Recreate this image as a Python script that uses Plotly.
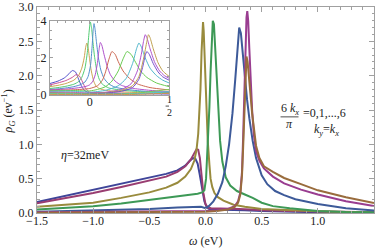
import plotly.graph_objects as go

# ---------------- main chart data (omega in eV, rho in 1/eV) ----------------
w_k0 = [-1.5, -1.25, -1.0, -0.75, -0.5, -0.35, -0.25, -0.18, -0.14, -0.11, -0.09, -0.07, -0.05, -0.03, -0.01, 0.01, 0.03, 0.06, 0.1, 0.2, 0.35, 0.5, 0.75, 1.0, 1.5]
r_k0 = [0.16, 0.25, 0.33, 0.43, 0.52, 0.57, 0.62, 0.69, 0.76, 0.80, 0.79, 0.72, 0.55, 0.33, 0.17, 0.09, 0.06, 0.05, 0.05, 0.05, 0.04, 0.03, 0.02, 0.01, 0.005]

w_k1 = [-1.5, -1.25, -1.0, -0.75, -0.5, -0.35, -0.25, -0.18, -0.13, -0.10, -0.08, -0.065, -0.05, -0.035, -0.02, 0.0, 0.02, 0.05, 0.1, 0.2, 0.3, 0.4, 0.5, 0.75, 1.0, 1.5]
r_k1 = [0.14, 0.21, 0.29, 0.38, 0.47, 0.53, 0.60, 0.68, 0.78, 0.87, 0.93, 0.92, 0.80, 0.55, 0.30, 0.13, 0.08, 0.07, 0.07, 0.07, 0.06, 0.05, 0.04, 0.03, 0.02, 0.01]

w_k2 = [-1.5, -1.25, -1.0, -0.75, -0.5, -0.35, -0.25, -0.18, -0.13, -0.10, -0.08, -0.065, -0.055, -0.045, -0.035, -0.028, -0.022, -0.016, -0.008, 0.0, 0.01, 0.02, 0.035, 0.045, 0.06, 0.08, 0.11, 0.16, 0.25, 0.35, 0.5, 0.75, 1.0, 1.25, 1.5]
r_k2 = [0.09, 0.12, 0.15, 0.22, 0.30, 0.37, 0.44, 0.53, 0.64, 0.76, 0.92, 1.15, 1.40, 1.80, 2.35, 2.70, 2.78, 2.65, 2.25, 1.80, 1.40, 1.05, 0.70, 0.50, 0.38, 0.29, 0.23, 0.18, 0.12, 0.09, 0.06, 0.04, 0.025, 0.015, 0.01]

w_k3 = [-1.5, -1.25, -1.0, -0.75, -0.5, -0.3, -0.15, -0.07, -0.03, -0.01, 0.005, 0.015, 0.025, 0.035, 0.045, 0.055, 0.065, 0.075, 0.085, 0.10, 0.115, 0.13, 0.15, 0.18, 0.22, 0.28, 0.35, 0.42, 0.5, 0.6, 0.75, 1.0, 1.25, 1.5]
r_k3 = [0.05, 0.07, 0.10, 0.14, 0.19, 0.23, 0.26, 0.28, 0.30, 0.33, 0.50, 0.80, 1.15, 1.55, 2.05, 2.55, 2.80, 2.75, 2.45, 1.90, 1.45, 1.05, 0.75, 0.52, 0.40, 0.32, 0.27, 0.22, 0.15, 0.10, 0.07, 0.03, 0.015, 0.01]

w_k4 = [-1.5, -1.0, -0.5, -0.25, -0.1, -0.04, 0.0, 0.03, 0.07, 0.11, 0.15, 0.18, 0.21, 0.24, 0.265, 0.285, 0.30, 0.315, 0.33, 0.35, 0.37, 0.39, 0.42, 0.45, 0.5, 0.55, 0.62, 0.7, 0.8, 1.0, 1.25, 1.5]
r_k4 = [0.02, 0.035, 0.06, 0.08, 0.09, 0.09, 0.07, 0.10, 0.17, 0.28, 0.45, 0.68, 1.00, 1.45, 1.95, 2.45, 2.70, 2.62, 2.35, 1.95, 1.65, 1.38, 1.05, 0.80, 0.55, 0.42, 0.32, 0.26, 0.20, 0.13, 0.07, 0.035]

w_k5 = [-1.5, -1.0, -0.5, 0.0, 0.1, 0.2, 0.26, 0.29, 0.31, 0.325, 0.335, 0.345, 0.355, 0.365, 0.372, 0.38, 0.39, 0.40, 0.415, 0.43, 0.45, 0.48, 0.52, 0.6, 0.7, 0.85, 1.0, 1.25, 1.5]
r_k5 = [0.01, 0.015, 0.02, 0.03, 0.04, 0.06, 0.10, 0.17, 0.30, 0.60, 1.10, 1.80, 2.45, 2.85, 2.94, 2.80, 2.40, 2.00, 1.50, 1.15, 0.90, 0.76, 0.65, 0.53, 0.43, 0.34, 0.27, 0.17, 0.10]

w_k6 = [-1.5, -1.0, -0.5, 0.0, 0.1, 0.2, 0.26, 0.29, 0.31, 0.325, 0.335, 0.345, 0.355, 0.365, 0.375, 0.385, 0.40, 0.415, 0.43, 0.45, 0.48, 0.52, 0.6, 0.7, 0.85, 1.0, 1.25, 1.5]
r_k6 = [0.005, 0.008, 0.012, 0.02, 0.03, 0.05, 0.09, 0.15, 0.27, 0.55, 0.95, 1.45, 1.95, 2.28, 2.20, 2.00, 1.70, 1.45, 1.25, 0.98, 0.80, 0.68, 0.60, 0.51, 0.42, 0.33, 0.23, 0.145]

main_w = [w_k0, w_k1, w_k2, w_k3, w_k4, w_k5, w_k6]
main_r = [r_k0, r_k1, r_k2, r_k3, r_k4, r_k5, r_k6]
main_colors = ["#3F4599", "#993D71", "#998B3D", "#3D9956", "#3D5A99", "#993D90", "#996C3D"]

x_tickvals = [-1.5, -1.0, -0.5, 0.0, 0.5, 1.0, 1.5]
x_ticktext = ["−1.5", "−1.0", "−0.5", "0.0", "0.5", "1.0", "1.5"]
y_tickvals = [0.0, 0.5, 1.0, 1.5, 2.0, 2.5, 3.0]
y_ticktext = ["0.0", "0.5", "1.0", "1.5", "2.0", "2.5", "3.0"]

# ---------------- inset data ----------------
ins_x = [
    [-0.25, -0.2, -0.16, -0.13, -0.11, -0.09, -0.07, -0.05, -0.03, 0.0, 0.05, 0.1, 0.2, 0.3, 0.4, 0.5],
    [-0.25, -0.2, -0.15, -0.11, -0.085, -0.065, -0.045, -0.025, 0.0, 0.05, 0.1, 0.2, 0.3, 0.4, 0.5],
    [-0.25, -0.2, -0.15, -0.1, -0.07, -0.05, -0.035, -0.025, -0.018, -0.01, 0.0, 0.01, 0.025, 0.04, 0.06, 0.1, 0.2, 0.3, 0.4, 0.5],
    [-0.25, -0.2, -0.15, -0.1, -0.07, -0.05, -0.03, -0.015, -0.005, 0.004, 0.012, 0.02, 0.03, 0.045, 0.06, 0.08, 0.12, 0.2, 0.3, 0.4, 0.5],
    [-0.25, -0.2, -0.15, -0.1, -0.06, -0.03, -0.01, 0.005, 0.015, 0.022, 0.027, 0.033, 0.042, 0.055, 0.07, 0.09, 0.12, 0.16, 0.25, 0.35, 0.5],
    [-0.25, -0.15, -0.08, -0.03, 0.0, 0.02, 0.035, 0.048, 0.058, 0.067, 0.076, 0.09, 0.11, 0.13, 0.16, 0.2, 0.28, 0.38, 0.5],
    [-0.25, -0.1, 0.0, 0.05, 0.08, 0.1, 0.12, 0.14, 0.16, 0.18, 0.21, 0.25, 0.3, 0.38, 0.5],
    [-0.25, -0.1, 0.0, 0.05, 0.1, 0.14, 0.18, 0.21, 0.235, 0.26, 0.29, 0.32, 0.36, 0.42, 0.5],
    [-0.25, -0.1, 0.0, 0.1, 0.18, 0.23, 0.27, 0.295, 0.31, 0.325, 0.35, 0.38, 0.42, 0.46, 0.5],
    [-0.25, -0.1, 0.0, 0.1, 0.2, 0.26, 0.3, 0.325, 0.34, 0.35, 0.36, 0.38, 0.41, 0.44, 0.47, 0.5],
    [-0.25, -0.1, 0.0, 0.1, 0.2, 0.27, 0.31, 0.34, 0.36, 0.37, 0.38, 0.4, 0.43, 0.46, 0.5],
    [-0.25, -0.1, 0.0, 0.1, 0.2, 0.27, 0.31, 0.335, 0.35, 0.36, 0.375, 0.4, 0.43, 0.46, 0.5],
    [-0.25, -0.1, 0.0, 0.1, 0.2, 0.3, 0.4, 0.5],
    [-0.25, -0.1, 0.0, 0.1, 0.2, 0.3, 0.4, 0.5],
    [-0.25, -0.1, 0.0, 0.1, 0.2, 0.3, 0.4, 0.5],
]
ins_y = [
    [0.62, 0.75, 0.92, 1.15, 1.32, 1.25, 0.85, 0.45, 0.22, 0.12, 0.10, 0.09, 0.08, 0.07, 0.06, 0.05],
    [0.55, 0.65, 0.78, 0.95, 1.10, 1.02, 0.70, 0.35, 0.15, 0.12, 0.11, 0.10, 0.09, 0.08, 0.07],
    [0.45, 0.52, 0.62, 0.80, 1.05, 1.45, 2.00, 2.60, 2.81, 2.55, 1.90, 1.30, 0.75, 0.48, 0.35, 0.25, 0.17, 0.13, 0.10, 0.08],
    [0.35, 0.40, 0.47, 0.58, 0.72, 0.95, 1.45, 2.30, 3.30, 3.95, 3.60, 2.90, 2.10, 1.30, 0.85, 0.58, 0.38, 0.26, 0.19, 0.15, 0.12],
    [0.30, 0.33, 0.38, 0.45, 0.55, 0.70, 1.00, 1.60, 2.60, 3.50, 3.86, 3.60, 2.90, 2.00, 1.35, 0.90, 0.60, 0.42, 0.28, 0.20, 0.14],
    [0.27, 0.32, 0.38, 0.45, 0.55, 0.75, 1.10, 1.70, 2.40, 2.84, 2.70, 2.20, 1.55, 1.10, 0.75, 0.52, 0.35, 0.25, 0.18],
    [0.25, 0.28, 0.35, 0.50, 0.80, 1.25, 1.90, 2.35, 2.20, 1.80, 1.30, 0.90, 0.60, 0.40, 0.27],
    [0.22, 0.24, 0.22, 0.30, 0.45, 0.75, 1.30, 1.95, 2.35, 2.20, 1.75, 1.30, 0.95, 0.65, 0.45],
    [0.20, 0.20, 0.15, 0.25, 0.50, 0.90, 1.70, 2.50, 2.81, 2.60, 2.00, 1.45, 1.05, 0.80, 0.65],
    [0.15, 0.14, 0.10, 0.15, 0.30, 0.60, 1.30, 2.20, 2.95, 3.26, 3.10, 2.50, 1.75, 1.30, 1.05, 0.90],
    [0.12, 0.10, 0.08, 0.12, 0.25, 0.50, 1.00, 2.00, 2.90, 3.26, 3.10, 2.50, 1.75, 1.30, 1.00],
    [0.10, 0.08, 0.06, 0.10, 0.20, 0.40, 0.85, 1.55, 2.15, 2.35, 2.20, 1.70, 1.25, 0.98, 0.80],
    [0.08, 0.07, 0.05, 0.05, 0.06, 0.10, 0.20, 0.30],
    [0.05, 0.04, 0.03, 0.03, 0.04, 0.06, 0.12, 0.18],
    [0.03, 0.02, 0.02, 0.02, 0.02, 0.03, 0.06, 0.10],
]
ins_colors = ["#5452CC", "#CC5297", "#CCA452", "#52CC73", "#5290CC", "#B052CC", "#CC6852",
              "#6ACC52", "#52B8CC", "#AF52CC", "#C0A050", "#7652CC", "#83CC52", "#52CACC", "#CC9152"]
ins_xtickvals = [0, 0.5]
ins_xticktext = ["0", " "]
ins_ytickvals = [0, 2, 4]

FONT = "Liberation Serif"
fig = go.Figure()

for w, r, c in zip(main_w, main_r, main_colors):
    fig.add_trace(go.Scatter(x=w, y=r, mode="lines", line=dict(color=c, width=2),
                             showlegend=False, hoverinfo="skip", xaxis="x", yaxis="y"))

for xs, ys, c in zip(ins_x, ins_y, ins_colors):
    fig.add_trace(go.Scatter(x=xs, y=ys, mode="lines", line=dict(color=c, width=1, shape="spline", smoothing=0.6),
                             showlegend=False, hoverinfo="skip", xaxis="x2", yaxis="y2"))

frame = "#a0a0a0"
tickfont = dict(family=FONT, size=12, color="#222")


def ax(**kw):
    base = dict(showgrid=False, zeroline=False, showline=True, linecolor=frame, linewidth=1,
                mirror="allticks", ticks="inside", tickcolor=frame, tickfont=tickfont, automargin=False)
    base.update(kw)
    return base


fig.update_layout(
    width=381, height=249,
    margin=dict(l=37, r=7, t=7, b=36, autoexpand=False),
    paper_bgcolor="white", plot_bgcolor="white",
    font=dict(family=FONT, size=12, color="#222"),
    xaxis=ax(range=[-1.5, 1.5], tickvals=x_tickvals, ticktext=x_ticktext, ticklen=5, ticklabelstandoff=-3,
             minor=dict(ticks="inside", ticklen=2.5, dtick=0.1, tickcolor=frame, showgrid=False)),
    yaxis=ax(range=[0, 3], tickvals=y_tickvals, ticktext=y_ticktext, ticklen=5,
             minor=dict(ticks="inside", ticklen=2.5, dtick=0.1, tickcolor=frame, showgrid=False)),
    xaxis2=ax(domain=[0.0386, 0.392], anchor="y2", range=[-0.25, 0.5], tickvals=ins_xtickvals,
              ticktext=ins_xticktext, ticklen=3, ticklabelstandoff=-4,
              minor=dict(ticks="inside", ticklen=2, dtick=0.05, tickcolor=frame, showgrid=False)),
    yaxis2=ax(domain=[0.573, 0.932], anchor="x2", range=[0, 4], tickvals=ins_ytickvals, ticklen=3,
              minor=dict(ticks="inside", ticklen=2, dtick=0.5, tickcolor=frame, showgrid=False)),
)

ann = [
    dict(x=-0.085, y=0.495, xref="paper", yref="paper", textangle=-90,
         text="<i>ρ</i><sub><i>G</i></sub> (ev<sup>−1</sup>)", font=dict(size=12)),
    dict(x=0.5, y=-0.136, xref="paper", yref="paper", text="<i>ω</i> (eV)", font=dict(size=12)),
    dict(x=-1.07, y=0.85, xref="x", yref="y", text="<i>η</i>=32meV", font=dict(size=12)),
    dict(x=0.748, y=1.51, xref="x", yref="y", text="6 <i>k<sub>x</sub></i>", font=dict(size=12)),
    dict(x=0.745, y=1.30, xref="x", yref="y", text="<i>π</i>", font=dict(size=12)),
    dict(x=0.846, y=1.45, xref="x", yref="y", xanchor="left", text="=0,1,...,6", font=dict(size=12)),
    dict(x=1.08, y=1.21, xref="x", yref="y", text="<i>k<sub>y</sub></i>=<i>k<sub>x</sub></i>", font=dict(size=12)),
    dict(x=0.5, y=0.551, xref="x2", yref="paper", text="1", font=dict(size=10)),
    dict(x=0.5, y=0.490, xref="x2", yref="paper", text="2", font=dict(size=10)),
]
for a in ann:
    a["showarrow"] = False
    a.setdefault("xanchor", "center")
    a["yanchor"] = "middle"
    fig.add_annotation(**a)

fig.add_shape(type="line", xref="x", yref="y", x0=0.668, x1=0.828, y0=1.40, y1=1.40,
              line=dict(color="#222", width=0.8))
fig.add_shape(type="line", xref="x2", yref="paper", x0=0.478, x1=0.522, y0=0.519, y1=0.519,
              line=dict(color="#222", width=0.8))

fig.write_html("out.html", config={"displayModeBar": False},
               post_script="document.body.style.margin='0';")
